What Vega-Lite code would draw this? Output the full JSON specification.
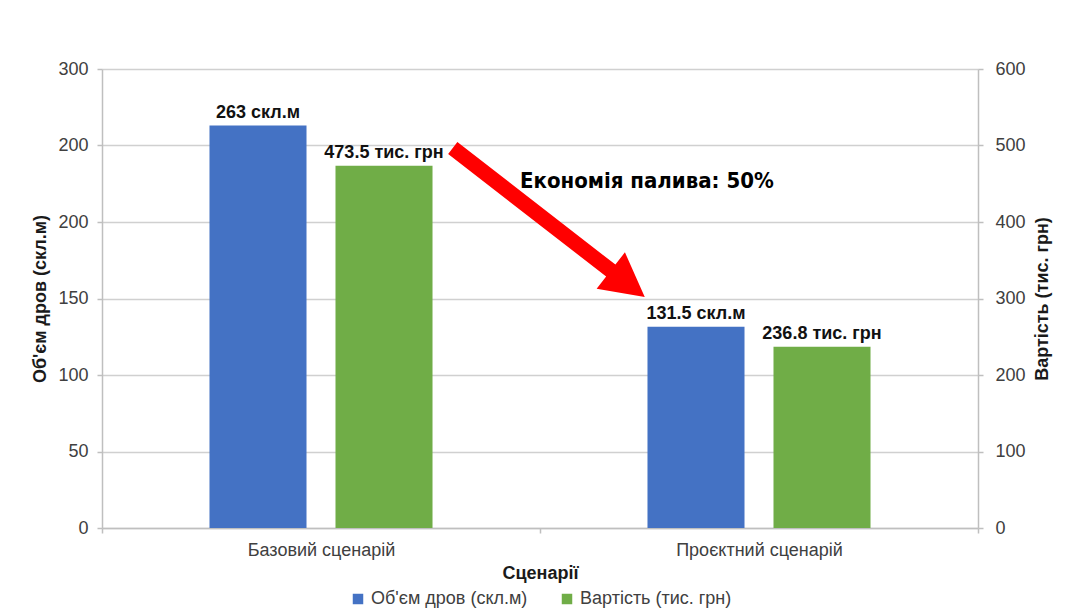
{
  "$schema": "https://vega.github.io/schema/vega-lite/v6.json",
  "width": 876,
  "height": 459,
  "autosize": {"type": "none"},
  "padding": {"left": 102, "top": 69, "right": 90, "bottom": 82},
  "background": "white",
  "config": {
    "view": {"stroke": null},
    "font": "Liberation Sans",
    "legend": {"layout": {"bottom": {"anchor": "middle"}}},
    "axis": {
      "labelFont": "Liberation Sans",
      "titleFont": "Liberation Sans",
      "labelFontSize": 18,
      "labelColor": "#404040",
      "titleFontSize": 18,
      "titleFontWeight": "bold",
      "titleColor": "#1a1a1a",
      "domainColor": "#bfbfbf",
      "domainWidth": 1.5,
      "tickColor": "#bfbfbf",
      "tickWidth": 1.5,
      "tickSize": 5,
      "gridColor": "#d0d0d0",
      "gridWidth": 1.5
    }
  },
  "datasets": {
    "bars": [
      {"scenario": "Базовий сценарій", "series": "Об'єм дров (скл.м)", "measure": "volume", "value": 263, "label": "263 скл.м"},
      {"scenario": "Базовий сценарій", "series": "Вартість (тис. грн)", "measure": "cost", "value": 473.5, "label": "473.5 тис. грн"},
      {"scenario": "Проєктний сценарій", "series": "Об'єм дров (скл.м)", "measure": "volume", "value": 131.5, "label": "131.5 скл.м"},
      {"scenario": "Проєктний сценарій", "series": "Вартість (тис. грн)", "measure": "cost", "value": 236.8, "label": "236.8 тис. грн"}
    ],
    "notes": [
      {"kind": "arrow", "px": 0.51, "py": 199.7, "text": ""},
      {"kind": "note", "px": 0.622, "py": 226.8, "text": "Економія палива: 50%"}
    ]
  },
  "layer": [
    {
      "data": {"name": "bars"},
      "transform": [{"filter": "datum.measure === 'volume'"}],
      "encoding": {
        "x": {
          "field": "scenario", "type": "nominal", "sort": null,
          "scale": {"domain": ["Базовий сценарій", "Проєктний сценарій"], "paddingInner": 0, "paddingOuter": 0},
          "axis": {"title": "Сценарії", "labelAngle": 0, "tickBand": "extent", "grid": false, "labelPadding": 8, "titlePadding": 5}
        },
        "xOffset": {
          "field": "series", "type": "nominal",
          "scale": {"domain": ["Об'єм дров (скл.м)", "Вартість (тис. грн)"], "paddingInner": 0.23, "paddingOuter": 0.853}
        },
        "y": {
          "field": "value", "type": "quantitative",
          "scale": {"domain": [0, 300], "nice": false},
          "axis": {
            "orient": "left", "title": "Об'єм дров (скл.м)",
            "values": [0, 50, 100, 150, 200, 250, 300],
            "labelExpr": "datum.value === 250 ? '200' : datum.label",
            "grid": true, "labelPadding": 9, "titlePadding": 8
          }
        }
      },
      "layer": [
        {
          "mark": {"type": "bar"},
          "encoding": {
            "color": {
              "field": "series", "type": "nominal",
              "scale": {"domain": ["Об'єм дров (скл.м)", "Вартість (тис. грн)"], "range": ["#4472C4", "#70AD47"]},
              "legend": {
                "orient": "bottom", "direction": "horizontal", "title": null,
                "symbolType": "square", "symbolSize": 110, "symbolStrokeWidth": 0,
                "labelFont": "Liberation Sans", "labelFontSize": 18, "labelColor": "#404040",
                "columnPadding": 30, "offset": 8
              }
            }
          }
        },
        {
          "mark": {"type": "text", "baseline": "alphabetic", "dy": -8, "fontWeight": "bold", "fontSize": 18, "color": "#111111"},
          "encoding": {"text": {"field": "label"}}
        }
      ]
    },
    {
      "data": {"name": "bars"},
      "transform": [{"filter": "datum.measure === 'cost'"}],
      "encoding": {
        "x": {
          "field": "scenario", "type": "nominal", "sort": null,
          "scale": {"domain": ["Базовий сценарій", "Проєктний сценарій"], "paddingInner": 0, "paddingOuter": 0},
          "axis": null
        },
        "xOffset": {
          "field": "series", "type": "nominal",
          "scale": {"domain": ["Об'єм дров (скл.м)", "Вартість (тис. грн)"], "paddingInner": 0.23, "paddingOuter": 0.853}
        },
        "y": {
          "field": "value", "type": "quantitative",
          "scale": {"domain": [0, 600], "nice": false},
          "axis": {
            "orient": "right", "title": "Вартість (тис. грн)", "titleAngle": -90,
            "values": [0, 100, 200, 300, 400, 500, 600],
            "grid": false, "labelPadding": 12, "titlePadding": 26
          }
        }
      },
      "layer": [
        {
          "mark": {"type": "bar"},
          "encoding": {
            "color": {
              "field": "series", "type": "nominal",
              "scale": {"domain": ["Об'єм дров (скл.м)", "Вартість (тис. грн)"], "range": ["#4472C4", "#70AD47"]}
            }
          }
        },
        {
          "mark": {"type": "text", "baseline": "alphabetic", "dy": -8, "fontWeight": "bold", "fontSize": 18, "color": "#111111"},
          "encoding": {"text": {"field": "label"}}
        }
      ]
    },
    {
      "data": {"name": "notes"},
      "encoding": {
        "x": {"field": "px", "type": "quantitative", "scale": {"domain": [0, 1], "nice": false}, "axis": null},
        "y": {"field": "py", "type": "quantitative", "scale": {"domain": [0, 300], "nice": false}, "axis": null}
      },
      "layer": [
        {
          "transform": [{"filter": "datum.kind === 'arrow'"}],
          "mark": {
            "type": "point",
            "shape": "M-1,-0.062L0.646,-0.062L0.646,-0.19L1,0L0.646,0.19L0.646,0.062L-1,0.062Z",
            "size": 59049, "angle": 37.8, "filled": true, "color": "#ff0000", "opacity": 1, "strokeWidth": 0
          }
        },
        {
          "transform": [{"filter": "datum.kind === 'note'"}],
          "mark": {"type": "text", "font": "DejaVu Sans Condensed, Liberation Sans", "fontWeight": "bold", "fontSize": 22, "color": "#000000", "align": "center", "baseline": "middle"},
          "encoding": {"text": {"field": "text"}}
        }
      ]
    }
  ],
  "resolve": {"scale": {"x": "independent", "y": "independent", "xOffset": "independent"}}
}
